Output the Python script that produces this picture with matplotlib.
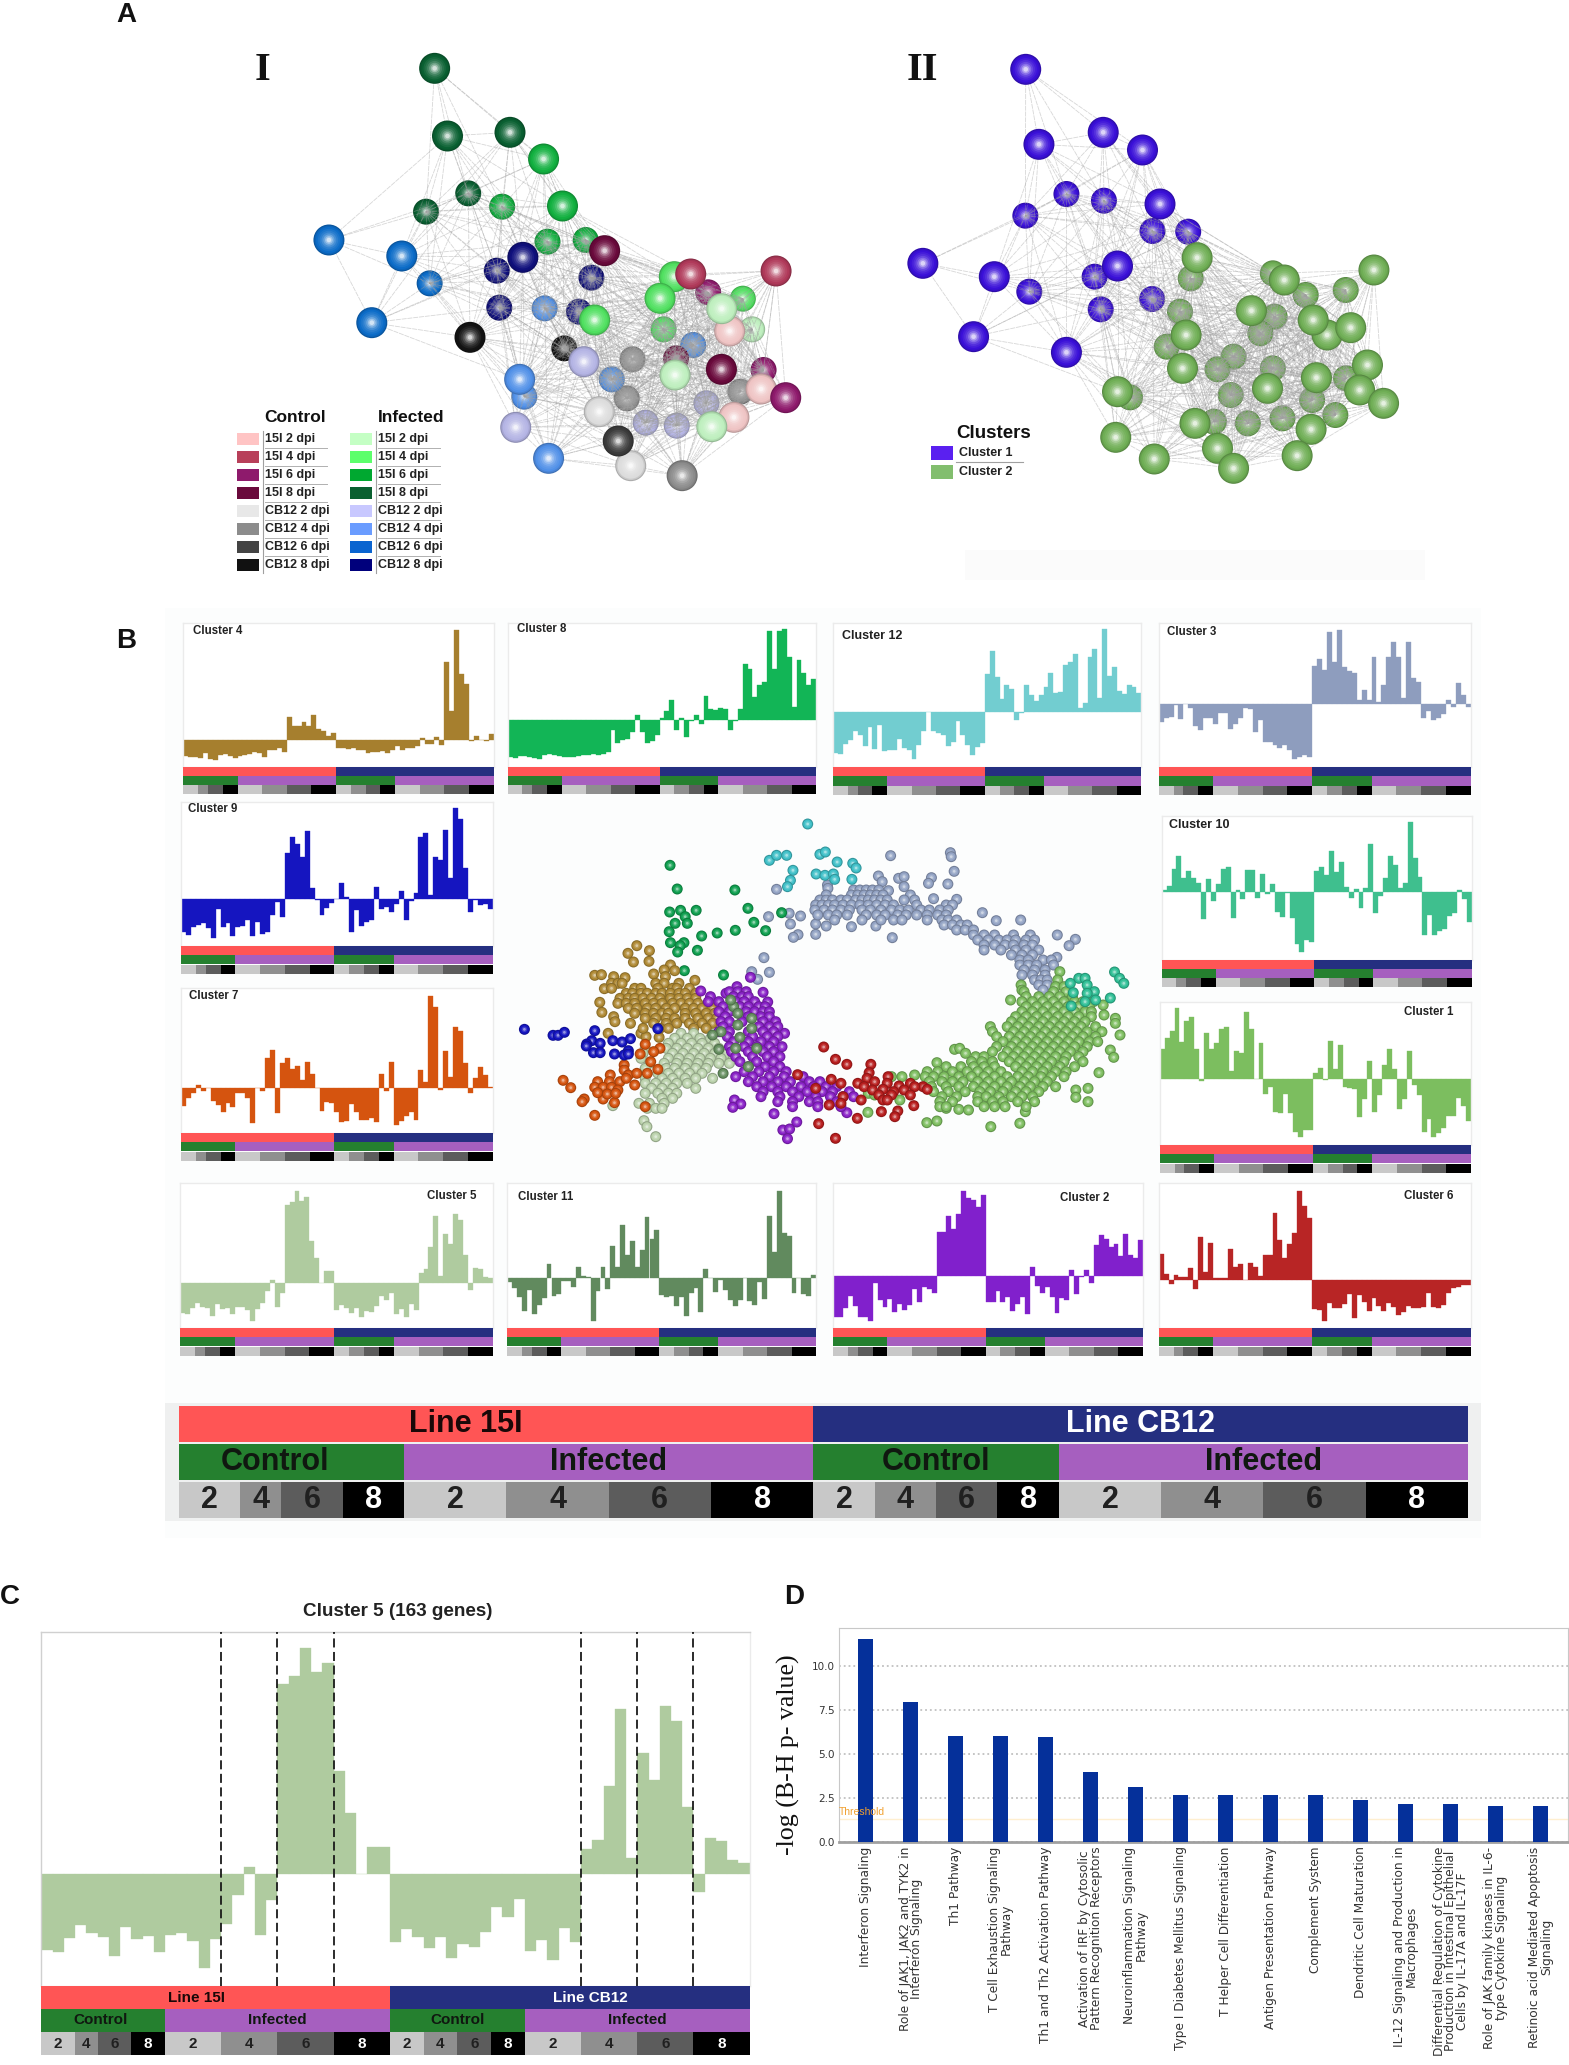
# -*- coding=utf-8 -*-
from itertools import combinations

import numpy as np
from matplotlib import pyplot as plt
from matplotlib.collections import LineCollection
from matplotlib.colors import to_rgb

plt.rcParams['font.family'] = ['Liberation Sans', 'DejaVu Sans']

W, H = 1569, 2065

# ---------- cluster profiles, one value per sample (63 samples) ----------
cluster_4 = [-48, -52, -52, -55, -40, -58, -60, -45, -42, -50, -55, -48, -46, -42, -38, -40, -52, -32, -30, -25, -38,
             67, 40, 40, 52, 40, 74, 32, 25, 12, 20,
             -25, -25, -28, -26, -32, -30, -40, -38, -36, -34, -40, -30,
             -20, -30, -26, -24, -20, 6, -14, -12, 7, -16,
             232, 87, 329, 197, 167, -5, 12, -2, -5, 18]
cluster_8 = [-110, -112, -108, -106, -110, -114, -116, -103, -102, -104, -108, -110, -110, -110, -106, -104, -103, -100,
             -104, -100, -95, -30, -67, -58, -55, -35, 15, -35, -68, -62, -45, 8, 28, 60, -30, 8, -50, -3, 15, -10, 72,
             35, 30, 37, 35, -30, -3, 35, 168, 155, 70, 105, 115, 268, 155, 268, 273, 190, 40, 180, 142, 105, 125]
cluster_12 = [-125, -127, -98, -85, -57, -70, -103, -47, -113, -40, -118, -115, -115, -83, -110, -115, -142, -100, -57,
              0, -57, -63, -70, -103, -90, -27, -70, -100, -130, -105, -95, 113, 182, 105, 37, 80, 68, -25, -5, 80, 50,
              33, 50, 75, 115, 57, 60, 140, 150, 172, 12, 25, 165, 188, 40, 247, 108, 133, 62, 52, 80, 73, 55]
cluster_3 = [-52, -40, -38, -3, -45, 0, -10, -65, -78, -40, -42, -60, -25, -27, -75, -60, -42, -10, -15, -82, -47, -112,
             -114, -122, -130, -122, -137, -165, -157, -152, -159, 115, 135, 103, 218, 128, 223, 111, 101, 93, 13, 43,
             13, 141, 8, 58, 141, 188, 141, 18, 188, 78, 68, -40, -20, -47, -40, -30, 13, -7, 63, 28, -7]
cluster_9 = [-99, -109, -86, -80, -72, -87, -117, -32, -86, -74, -112, -84, -82, -64, -112, -71, -107, -99, -49, -9, -56,
             136, 184, 164, 126, 204, 33, -4, -49, -27, -14, -2, 48, 6, -99, -34, -81, -71, -64, 34, -31, -26, -41, -16,
             24, -64, -7, 16, 184, 198, 11, 126, 116, 206, 61, 271, 238, 91, -41, -4, -19, -17, -31]
cluster_7 = [-53, -28, -15, 10, -7, 0, -38, -50, -72, -43, -57, -13, -13, -30, -105, 0, -7, 90, 115, -75, 77, 90, 57, 68,
             25, 80, 42, 0, -67, -40, -45, -72, -100, -97, -48, -70, -96, -96, -90, -100, 42, -8, 80, -110, -98, -82,
             -70, -96, 55, 18, 277, 243, -5, 113, 33, 185, 172, 76, -13, 30, 65, 40, 5]
cluster_10 = [5, 18, 68, 108, 42, 62, 40, 25, -83, 38, -27, 23, 67, 75, -80, 5, -23, 65, 65, -18, 52, -8, 23, -60, -75,
              -5, -80, -157, -180, -145, -152, 62, 75, 50, 123, 60, 90, 13, -18, 7, -48, 10, 142, -65, -13, 42, 107, 80,
              10, 27, 208, 102, 43, -130, -70, -130, -117, -113, -72, -65, 5, -22, -90]
cluster_1 = [89, 122, 142, 213, 110, 174, 184, 89, -7, 138, 89, 106, 149, 154, 23, 84, 76, 200, 148, -2, 106, -46, -25,
             -99, -102, -46, -102, -159, -174, -154, -154, 16, 31, -4, 114, 28, 101, -26, -28, -30, -116, -62, 54, -101,
             -49, 41, 89, 28, -91, -62, 84, -19, -49, -159, -122, -176, -162, -149, -111, -111, -57, -82, -126]
cluster_5 = [-227, -234, -190, -153, -177, -189, -244, -159, -194, -184, -234, -182, -177, -199, -282, -195, -150, -63,
             21, -182, -77, 571, 594, 680, 606, 635, 311, 183, 0, 83, 83, -204, -165, -187, -222, -187, -252, -209,
             -217, -172, -97, -127, -75, -230, -197, -257, -160, -204, 75, 103, 265, 495, 50, 363, 283, 506, 460, 203,
             -52, 108, 101, 43, 33]
cluster_11 = [-10, -30, -55, -98, -35, -107, -80, -60, 43, -53, -47, -8, -8, -27, 33, 7, 3, -127, -37, 34, -31, 97, 33,
              160, 70, 112, 33, 85, 185, 117, 145, -50, -55, -53, -83, -55, -113, -43, -30, -100, 27, 0, -40, -5, -35,
              -65, -83, -65, 0, -68, -80, -10, -63, 187, 80, 263, 137, 128, -43, 0, -48, -52, 10]
cluster_2 = [-121, -121, -96, -59, -89, -121, -121, -133, -21, -71, -91, -69, -106, -83, -101, -86, -39, -76, -31, -39,
             -49, 132, 134, 182, 142, 186, 257, 236, 229, 207, 243, -76, -76, -44, -76, -61, -103, -84, -61, -114, 27,
             -29, -51, -33, -61, -111, -66, -71, 19, -53, -3, 19, -21, 94, 123, 111, 89, 97, 61, 127, 64, 54, 109]
cluster_6 = [78, 19, -12, 16, 9, 11, 38, -26, 131, 26, 111, 8, 6, 6, 93, 41, 49, 1, 53, 39, 13, 76, 76, 201, 121, 68, 109,
             141, 269, 223, 186, -87, -89, -121, -69, -84, -84, -72, -41, -112, -44, -64, -91, -52, -77, -91, -67, -79,
             -104, -94, -77, -84, -82, -81, -39, -79, -84, -74, -39, -24, -19, -14, -14]
cluster_5_small_scale = 0.406

# sample counts of the annotation strips
line_sizes = [31, 32]
cond_sizes = [11, 20, 12, 20]
dpi_sizes = [3, 2, 3, 3, 5, 5, 5, 5, 3, 3, 3, 3, 5, 5, 5, 5]
dpi_labels = ['2', '4', '6', '8'] * 4
line_labels = ['Line 15I', 'Line CB12']
cond_labels = ['Control', 'Infected', 'Control', 'Infected']

# ---------- panel D ----------
pathways = ['Interferon Signaling', 'Role of JAK1, JAK2 and TYK2 in\nInterferon Signaling', 'Th1 Pathway',
            'T Cell Exhaustion Signaling\nPathway', 'Th1 and Th2 Activation Pathway',
            'Activation of IRF by Cytosolic\nPattern Recognition Receptors', 'Neuroinflammation Signaling\nPathway',
            'Type I Diabetes Mellitus Signaling', 'T Helper Cell Differentiation', 'Antigen Presentation Pathway',
            'Complement System', 'Dendritic Cell Maturation', 'IL-12 Signaling and Production in\nMacrophages',
            'Differential Regulation of Cytokine\nProduction in Intestinal Epithelial\nCells by IL-17A and IL-17F',
            'Role of JAK family kinases in IL-6-\ntype Cytokine Signaling',
            'Retinoic acid Mediated Apoptosis\nSignaling']
log_p = [11.57, 8.0, 6.06, 6.06, 6.0, 4.0, 3.12, 2.69, 2.69, 2.69, 2.69, 2.4, 2.2, 2.16, 2.06, 2.06]
threshold = 1.3

# ---------- panel A networks (read in zoom units) ----------
net_colors = {'dg': '#0A6032', 'g6': '#12B040', 'b6': '#0C6CC8', 'nv': '#10107C', 'mr': '#6A0A3C', 'lg': '#50E060',
              'cr': '#B03A5A', 'pk': '#8E1A6C', 'pg': '#BEEFBE', 'ro': '#EFC4C4', 'bk': '#141414', 'dk': '#3C3C3C',
              'gy': '#8C8C8C', 'pe': '#B4B4E4', 'b4': '#5090E8', 'wh': '#DCDCDC'}
net1_back = [(583, 460, 'dg'), (465, 515, 'dg'), (678, 500, 'g6'), (805, 605, 'g6'), (912, 600, 'g6'), (663, 692, 'nv'),
             (670, 803, 'nv'), (928, 713, 'nv'), (893, 815, 'nv'), (797, 805, 'b4'), (475, 730, 'b6'), (852, 925, 'bk'),
             (1043, 958, 'gy'), (1027, 1075, 'gy'), (1345, 1055, 'gy'), (985, 1018, 'b4'), (1213, 915, 'b4'),
             (1165, 955, 'mr'), (1255, 757, 'pk'), (1410, 990, 'pk'), (1130, 868, 'lg'), (1352, 776, 'lg'),
             (1378, 868, 'pg'), (1080, 1148, 'pe'), (1167, 1157, 'pe'), (1250, 1090, 'pe'), (740, 1070, 'b4')]
net1_front = [(489, 85, 'dg'), (525, 288, 'dg'), (700, 277, 'dg'), (794, 357, 'g6'), (847, 498, 'g6'), (193, 600, 'b6'),
              (397, 648, 'b6'), (313, 848, 'b6'), (736, 652, 'nv'), (965, 632, 'mr'), (1160, 710, 'lg'),
              (1206, 702, 'cr'), (1445, 693, 'cr'), (1120, 775, 'lg'), (937, 840, 'lg'), (588, 892, 'bk'),
              (1315, 873, 'ro'), (1293, 806, 'pg'), (1292, 988, 'mr'), (1162, 1005, 'pg'), (1403, 1047, 'ro'),
              (1472, 1073, 'pk'), (1327, 1132, 'ro'), (1265, 1160, 'pg'), (907, 965, 'pe'), (727, 1018, 'b4'),
              (716, 1162, 'pe'), (950, 1115, 'wh'), (1038, 1277, 'wh'), (1003, 1203, 'dk'), (808, 1255, 'b4'),
              (1182, 1307, 'gy')]
net2_back = [(522, 462, 'c1'), (627, 482, 'c1'), (407, 527, 'c1'), (763, 573, 'c1'), (863, 575, 'c1'), (418, 755, 'c1'),
             (601, 710, 'c1'), (618, 808, 'c1'), (762, 777, 'c1'), (870, 715, 'c2'), (1100, 700, 'c2'),
             (1192, 765, 'c2'), (1304, 750, 'c2'), (840, 815, 'c2'), (1105, 830, 'c2'), (1065, 880, 'c2'),
             (803, 920, 'c2'), (990, 950, 'c2'), (945, 988, 'c2'), (1100, 985, 'c2'), (1305, 1015, 'c2'),
             (982, 1065, 'c2'), (1210, 1080, 'c2'), (700, 1072, 'c2'), (935, 1145, 'c2'), (1030, 1150, 'c2'),
             (1127, 1135, 'c2'), (1275, 1125, 'c2')]
net2_front = [(408, 88, 'c1'), (445, 313, 'c1'), (625, 277, 'c1'), (735, 330, 'c1'), (784, 492, 'c1'), (120, 670, 'c1'),
              (320, 710, 'c1'), (665, 678, 'c1'), (262, 890, 'c1'), (522, 937, 'c1'), (888, 653, 'c2'),
              (1132, 720, 'c2'), (1383, 690, 'c2'), (1040, 812, 'c2'), (857, 885, 'c2'), (1252, 885, 'c2'),
              (1213, 840, 'c2'), (1318, 863, 'c2'), (847, 985, 'c2'), (1085, 1045, 'c2'), (1222, 1013, 'c2'),
              (1365, 975, 'c2'), (1343, 1050, 'c2'), (1410, 1090, 'c2'), (665, 1055, 'c2'), (882, 1150, 'c2'),
              (1207, 1168, 'c2'), (660, 1192, 'c2'), (768, 1257, 'c2'), (945, 1225, 'c2'), (990, 1285, 'c2'),
              (1168, 1247, 'c2')]
net2_colors = {'c1': '#3A10D8', 'c2': '#6FAE55'}

legend_control = ['15I 2 dpi', '15I 4 dpi', '15I 6 dpi', '15I 8 dpi', 'CB12 2 dpi', 'CB12 4 dpi', 'CB12 6 dpi', 'CB12 8 dpi']
control_colors = ['#FFC4C4', '#B8405A', '#8E1A6C', '#6A0A3C', '#E8E8E8', '#8C8C8C', '#444444', '#111111']
infected_colors = ['#C4FFC4', '#5CFF6C', '#00A830', '#0A6030', '#C8C8FF', '#6A9CFF', '#0A64D0', '#00007C']

# ---------- panel B gene cloud (read in zoom units), rows are (y, xs) ----------
pts_cyan = [(731, 72), (640, 181), (657, 166), (681, 166), (760, 163), (773, 156), (801, 186), (838, 190), (846, 204),
            (696, 211), (751, 222), (772, 226), (792, 222), (795, 238), (836, 238), (690, 241), (683, 260)]
pts_green8 = [(404, 196), (421, 267), (558, 270), (403, 336), (429, 331), (466, 331), (589, 325), (669, 338), (440, 350),
              (416, 370), (445, 370), (603, 367), (402, 395), (559, 391), (516, 399), (631, 392), (479, 408), (405, 428),
              (437, 428), (428, 437), (422, 456), (469, 451), (531, 525), (438, 512)]
pts_grey = [(928, 167), (1070, 158), (1072, 170), (1079, 214), (899, 228), (947, 235), (960, 230), (1025, 233),
            (1018, 250), (1064, 252), (778, 255), (779, 265), (657, 268), (908, 245), (960, 260), (923, 272), (1030, 296),
            (1085, 298), (687, 340), (714, 348), (638, 350), (690, 372), (750, 372), (775, 378), (835, 380), (893, 378),
            (708, 404), (697, 412), (750, 403), (932, 413), (1146, 338), (1179, 362), (1237, 360), (1324, 405),
            (1367, 418), (1352, 437), (1323, 472), (627, 473), (640, 517), (598, 515), (612, 538)]
rows_grey = [(270, [840, 855, 870, 885, 900]), (285, [775, 835, 850, 865, 880, 895, 910, 975]),
             (300, [760, 775, 790, 810, 825, 845, 860, 875, 890, 905, 920, 960, 985]),
             (315, [750, 765, 780, 795, 815, 835, 855, 875, 895, 915, 935, 990, 1060, 1075]),
             (330, [748, 770, 790, 810, 830, 860, 880, 905, 930, 950, 970, 1000, 1020, 1045, 1065]),
             (345, [755, 780, 800, 825, 870, 895, 915, 945, 965, 990, 1015, 1040, 1060]),
             (360, [795, 860, 905, 935, 955, 1015, 1050, 1065, 1085]), (375, [1055, 1075, 1095, 1110]),
             (390, [1085, 1105, 1125]), (405, [1125, 1150, 1175, 1220, 1260]),
             (420, [1135, 1160, 1185, 1205, 1225, 1250, 1270]), (435, [1150, 1175, 1200, 1220, 1245, 1265]),
             (450, [1150, 1190, 1225, 1250, 1280]), (465, [1215, 1240, 1265]), (480, [1235, 1255, 1290, 1310]),
             (495, [1235, 1255, 1275, 1315]), (510, [1245, 1270, 1295]), (525, [1240, 1265, 1295]),
             (540, [1270, 1285, 1300]), (555, [1280, 1300]), (570, [1290])]
pts_bronze = [(325, 437), (304, 460), (355, 452), (317, 486), (354, 484), (225, 526), (241, 524), (270, 530), (405, 495),
              (390, 510), (415, 512), (365, 522), (393, 530), (463, 541), (297, 533), (248, 566), (237, 607), (242, 637),
              (270, 650), (273, 665), (257, 700), (335, 700), (347, 710), (378, 712), (420, 725)]
rows_bronze = [(550, [265, 280, 290, 370, 390, 425]), (565, [265, 320, 335, 375, 410, 420, 450]),
               (580, [300, 315, 335, 350, 370, 385, 405, 425, 440, 465]),
               (595, [285, 305, 320, 340, 360, 380, 405, 425, 445, 465]),
               (610, [280, 300, 320, 345, 365, 385, 410, 430, 450, 470, 495]),
               (625, [305, 325, 350, 370, 395, 415, 440, 460, 480, 505]),
               (640, [320, 345, 365, 385, 400, 440, 465, 490, 510]),
               (655, [345, 370, 395, 415, 440, 470, 495, 515]), (670, [310, 365, 395, 420, 450, 480, 505]),
               (685, [340, 380, 400, 460, 490])]
pts_purple = [(595, 532), (625, 577), (477, 573), (636, 606), (676, 700), (557, 900), (572, 912), (553, 922), (651, 941),
              (705, 966), (672, 990), (688, 987), (683, 1016), (824, 938), (537, 580), (563, 560)]
rows_purple = [(575, [545, 565, 585]), (590, [500, 555, 575, 590]), (605, [495, 520, 560, 580, 605]),
               (620, [530, 570, 590, 615, 630]), (635, [520, 545, 585, 605, 625, 640]), (650, [535, 590, 620, 640]),
               (665, [525, 545, 575, 625, 655]), (680, [530, 615, 640, 660]), (695, [520, 545, 590, 625, 650]),
               (710, [540, 600, 635, 660]), (725, [555, 590, 620, 650]), (740, [545, 580, 610, 640, 670]),
               (755, [550, 590, 625, 650]), (770, [560, 600, 635, 665]), (785, [570, 610, 650]), (800, [590, 630, 665]),
               (815, [580, 615, 650, 680]), (830, [560, 600, 640, 675, 720]), (845, [590, 625, 660, 690, 735, 760]),
               (860, [610, 645, 680, 715, 745, 775, 800]), (875, [625, 660, 695, 730, 765, 790, 830]),
               (890, [620, 665, 710, 750, 785, 815, 840]), (905, [660, 695, 735, 755, 800]), (920, [695, 755, 810])]
pts_sage = [(342, 962), (349, 980), (370, 1010), (268, 917)]
rows_sage = [(700, [430, 460]), (715, [415, 445, 475, 500]), (730, [400, 430, 455, 480, 510]),
             (745, [345, 395, 420, 445, 470, 495, 520]), (760, [340, 410, 435, 460, 485, 510, 540]),
             (775, [335, 400, 425, 450, 475, 500, 525, 555]), (790, [355, 390, 420, 445, 470, 495, 520, 545]),
             (805, [345, 395, 415, 440, 465, 490]), (820, [375, 400, 425, 450, 480]),
             (835, [345, 385, 410, 440, 465, 505]), (850, [345, 370, 395, 420, 445]), (865, [360, 385, 410, 465]),
             (880, [345, 375, 400, 420]), (895, [385, 410]), (910, [330, 355, 390]), (925, [350, 370, 385])]
pts_dsage = [(555, 620), (565, 640), (598, 655), (565, 675), (598, 685), (570, 712), (610, 745), (520, 748), (560, 745),
             (590, 800), (525, 695), (505, 705), (548, 600), (530, 820)]
pts_blue = [(58, 688), (126, 706), (138, 706), (153, 697), (225, 692), (218, 722), (238, 730), (206, 732), (268, 722),
            (290, 726), (310, 716), (222, 758), (238, 758), (305, 752), (272, 762), (295, 765), (305, 762), (205, 738),
            (375, 686)]
pts_orange = [(150, 841), (168, 863), (200, 897), (195, 905), (245, 897), (225, 946), (272, 908), (345, 733), (380, 745),
              (365, 755), (333, 762), (358, 785), (375, 808), (295, 795), (295, 810), (262, 825), (232, 845), (260, 845),
              (285, 845), (305, 825), (325, 820), (350, 820), (300, 835), (320, 855), (225, 862), (245, 862), (265, 862),
              (280, 870), (232, 878), (255, 882), (275, 880), (345, 920)]
pts_red = [(769, 741), (797, 778), (824, 793), (881, 793), (707, 824), (787, 838), (877, 818), (922, 830), (810, 850),
           (850, 850), (872, 835), (890, 845), (920, 850), (948, 858), (975, 850), (1005, 860), (865, 860), (885, 870),
           (910, 868), (935, 875), (960, 870), (985, 860), (1015, 868), (900, 885), (930, 885), (975, 885), (750, 865),
           (815, 890), (858, 900), (910, 900), (920, 900), (782, 915), (810, 910), (983, 917), (906, 935), (945, 933),
           (849, 955), (938, 950), (757, 971), (797, 1015)]
pts_lime = [(1330, 515), (1213, 600), (1238, 555), (1240, 570), (1433, 615), (1435, 645), (1462, 655), (1462, 670),
            (1473, 705), (1450, 750), (1458, 772), (1423, 818), (1397, 865), (1368, 870), (1368, 892), (1397, 905),
            (1235, 970), (1166, 980), (1014, 968), (1038, 963), (1248, 935), (874, 937), (1090, 928), (1113, 930),
            (1060, 925), (1038, 788), (1080, 748), (1092, 745), (1106, 760), (930, 830), (955, 830), (985, 825),
            (875, 880), (890, 885), (950, 900)]
rows_lime = [(540, [1325]), (560, [1320, 1340]), (575, [1245, 1315, 1345]), (590, [1250, 1280, 1305, 1330, 1360]),
             (605, [1240, 1265, 1290, 1315, 1340, 1365, 1385, 1410]), (620, [1250, 1275, 1300, 1325, 1350, 1375, 1400]),
             (635, [1240, 1265, 1290, 1315, 1340, 1365, 1390, 1405]),
             (650, [1225, 1250, 1275, 1300, 1325, 1350, 1375, 1405]),
             (665, [1215, 1240, 1265, 1290, 1315, 1340, 1365, 1390]),
             (680, [1165, 1205, 1230, 1255, 1280, 1305, 1330, 1355, 1380, 1415]),
             (695, [1170, 1220, 1245, 1270, 1295, 1320, 1345, 1370, 1395, 1430]),
             (710, [1180, 1210, 1235, 1260, 1285, 1310, 1335, 1360, 1385, 1415]),
             (725, [1195, 1225, 1250, 1275, 1300, 1325, 1350, 1375, 1400, 1420]),
             (740, [1180, 1215, 1240, 1265, 1290, 1315, 1340, 1365, 1395]),
             (755, [1170, 1205, 1230, 1255, 1280, 1305, 1330, 1355, 1385]),
             (770, [1130, 1150, 1195, 1220, 1245, 1270, 1295, 1320, 1345, 1375]),
             (785, [1120, 1145, 1170, 1210, 1235, 1260, 1285, 1310, 1340, 1385]),
             (800, [1060, 1095, 1125, 1150, 1175, 1225, 1250, 1275, 1300, 1330, 1365]),
             (815, [1015, 1040, 1075, 1110, 1135, 1160, 1190, 1240, 1265, 1290, 1320, 1345]),
             (830, [1010, 1030, 1055, 1090, 1120, 1150, 1175, 1205, 1230, 1255, 1285, 1310, 1340]),
             (845, [1020, 1050, 1075, 1100, 1135, 1160, 1190, 1215, 1245, 1270, 1300]),
             (860, [1025, 1060, 1090, 1125, 1150, 1175, 1205, 1235, 1260, 1290, 1320]),
             (875, [1030, 1065, 1105, 1140, 1165, 1195, 1225, 1250, 1280]),
             (890, [1050, 1085, 1135, 1155, 1185, 1215, 1240, 1265]), (905, [1045, 1075, 1135, 1170, 1195, 1230, 1270]),
             (920, [1045, 1060, 1150, 1175, 1200, 1250])]
pts_teal = [(1460, 516), (1472, 535), (1482, 550), (1375, 535), (1390, 535), (1395, 555), (1412, 575), (1395, 580),
            (1450, 594), (1415, 600), (1355, 550), (1362, 578), (1390, 605), (1357, 618)]

fig = plt.figure(figsize=(W / 100, H / 100), dpi=100, facecolor='white')


def px_axes(x0, y0, x1, y1, **kw):
    # 按像素位置放一个坐标轴
    return fig.add_axes([x0 / W, 1 - y1 / H, (x1 - x0) / W, (y1 - y0) / H], **kw)


def spheres(ax, xs, ys, colors, diam, zorder=3, fracs=None, mixes=None):
    if fracs is None:
        fracs = [1.0, 0.93, 0.84, 0.72, 0.6, 0.48, 0.36, 0.25, 0.15]
        mixes = [-0.22, -0.08, 0.0, 0.06, 0.13, 0.24, 0.4, 0.6, 0.82]
    px, py, cs, ss = [], [], [], []
    for x, y, c in zip(xs, ys, colors):
        base = np.array(to_rgb(c))
        for f, m in zip(fracs, mixes):
            col = base * (1 + m) if m < 0 else base + (1 - base) * m
            px.append(x)
            py.append(y)
            cs.append(col)
            ss.append((diam * f * 0.72) ** 2)
    ax.scatter(px, py, s=ss, c=np.array(cs), linewidths=0, zorder=zorder)


def strips(ax, text=None, fs=0):
    ax.set_xlim(0, 63)
    ax.set_ylim(3, 0)
    ax.axis('off')
    rows = [(line_sizes, ['#FF5555', '#252F80']),
            (cond_sizes, ['#25802F', '#A65FBF'] * 2),
            (dpi_sizes, ['#C8C8C8', '#8F8F8F', '#5C5C5C', '#000000'] * 4)]
    for r, (sizes, cols) in enumerate(rows):
        left = np.r_[0, np.cumsum(sizes)[:-1]]
        ax.bar(left, [0.97] * len(sizes), width=sizes, bottom=r + 0.015, align='edge', color=cols, linewidth=0)
    if text is None:
        return
    left = np.r_[0, np.cumsum(cond_sizes)[:-1]]
    for lab, l, s, dx in zip(cond_labels, left, cond_sizes, text['cond_dx']):
        ax.text(l + s / 2 + dx, 1.5, lab, ha='center', va='center', fontsize=fs, fontweight='bold', color='#101810')
    ax.text(text['line_x'][0], 0.5, line_labels[0], ha='center', va='center', fontsize=fs, fontweight='bold',
            color='#1a0808')
    ax.text(text['line_x'][1], 0.5, line_labels[1], ha='center', va='center', fontsize=fs, fontweight='bold',
            color='white')
    left = np.r_[0, np.cumsum(dpi_sizes)[:-1]]
    for lab, l, s in zip(dpi_labels, left, dpi_sizes):
        ax.text(l + s / 2, 2.5, lab, ha='center', va='center', fontsize=fs, fontweight='bold',
                color='white' if lab == '8' else '#202020')


def profile(values, color, x0, x1, top, base, strip_top, strip_bottom, title=None, tx=0, ty=0, fs=8.3):
    ax = px_axes(x0, top, x1, strip_top)
    ax.bar(np.arange(len(values)), values, width=1.0, align='edge', color=color, edgecolor=color, linewidth=0.25)
    ax.set_xlim(0, 63)
    ax.set_ylim(-(strip_top - base) * 3, (base - top) * 3)
    ax.set_xticks([])
    ax.set_yticks([])
    for sp in ax.spines.values():
        sp.set_color('#EBEBEB')
        sp.set_linewidth(1.0)
    strips(px_axes(x0, strip_top, x1, strip_bottom))
    if title:
        page.text(tx, ty, title, fontsize=fs, fontweight='bold', ha='left', va='center', color='#222222')
    return ax


# 背景放最底层
bg = px_axes(0, 0, W, H, zorder=-1)
bg.set_xlim(0, W)
bg.set_ylim(H, 0)
bg.axis('off')
bg.fill_between([165, 1481], 608, 1538, color='#FCFDFD', linewidth=0)
bg.fill_between([165, 1481], 1403, 1521, color='#EFF0F0', linewidth=0)
bg.fill_between([965, 1425], 550, 580, color='#FBFBFB', linewidth=0)

# 文字放最上层
page = px_axes(0, 0, W, H, zorder=20)
page.set_xlim(0, W)
page.set_ylim(H, 0)
page.axis('off')
for lab, x, y in [('A', 126, 15), ('B', 126, 641), ('C', 10, 1597), ('D', 794, 1597)]:
    page.text(x, y, lab, fontsize=20, fontweight='bold', ha='center', va='center', color='#111111')
for lab, x in [('I', 262), ('II', 922)]:
    page.text(x, 70, lab, fontsize=29, fontweight='bold', family='Liberation Serif', ha='center', va='center',
              color='#111111')


# ---------- A 网络图 ----------
def network(x0, back, front, colors, limit):
    ax = px_axes(x0, 40, x0 + 560, 510)
    ax.patch.set_alpha(0)
    ax.set_xlim(0, 1568)
    ax.set_ylim(1410, 0)
    ax.axis('off')
    nodes = back + front
    segs = []
    for a, b in combinations(nodes, 2):
        if np.hypot((a[0] - b[0]) / 2.8, (a[1] - b[1]) / 3) < limit:
            segs.append([(a[0], a[1]), (b[0], b[1])])
    spheres(ax, [n[0] for n in back], [n[1] for n in back], [colors[n[2]] for n in back], 26, zorder=2)
    ax.add_collection(LineCollection(segs, colors='#A0A0A0', linewidths=0.6, alpha=0.42, linestyles=(0, (6, 1)),
                                     zorder=3))
    spheres(ax, [n[0] for n in front], [n[1] for n in front], [colors[n[2]] for n in front], 31, zorder=4)


network(260, net1_back, net1_front, net_colors, 165)
network(880, net2_back, net2_front, net2_colors, 165)

# 图例
page.text(295, 417, 'Control', fontsize=12.5, fontweight='bold', ha='center', va='center', color='#111111')
page.text(411, 417, 'Infected', fontsize=12.5, fontweight='bold', ha='center', va='center', color='#111111')
for sx, tx, cols in [(237, 265, control_colors), (350, 378, infected_colors)]:
    page.plot([tx - 2, tx - 2], [431, 573], color='#A0A0A0', lw=0.8)
    for i, (lab, c) in enumerate(zip(legend_control, cols)):
        y = 439 + i * 18
        page.fill_between([sx, sx + 22], y - 6, y + 6, color=c, linewidth=0)
        page.text(tx, y, lab, fontsize=9, fontweight='bold', ha='left', va='center', color='#222222')
        if i < 7:
            page.plot([tx, tx + 62], [y + 9, y + 9], color='#B0B0B0', lw=0.7)
page.text(994, 433, 'Clusters', fontsize=13.5, fontweight='bold', ha='center', va='center', color='#111111')
for y, lab, c in [(453, 'Cluster 1', '#5A20F0'), (472, 'Cluster 2', '#82BE6E')]:
    page.fill_between([931, 953], y - 7, y + 7, color=c, linewidth=0)
    page.text(959, y, lab, fontsize=9, fontweight='bold', ha='left', va='center', color='#222222')
page.plot([956, 1023], [462, 462], color='#A0A0A0', lw=0.8)

# ---------- B 基因散点 ----------
cloud = px_axes(500, 800, 1160, 1180)
cloud.patch.set_alpha(0)
cloud.set_xlim(0, 1568)
cloud.set_ylim(1140, 0)
cloud.axis('off')


def unroll(points, rows=()):
    out = list(points)
    for y, xs in rows:
        out += [(x, y) for x in xs]
    return out


cloud_sets = [(unroll(pts_grey, rows_grey), '#93A3C4'), (pts_cyan, '#40C0C8'), (pts_green8, '#10A050'),
              (unroll(pts_lime, rows_lime), '#7EBE60'), (pts_teal, '#30BF96'), (unroll(pts_bronze, rows_bronze), '#B08A35'),
              (unroll(pts_sage, rows_sage), '#BBD2AC'), (pts_orange, '#D5540F'), (pts_blue, '#1515C0'),
              (unroll(pts_purple, rows_purple), '#8A22C8'), (pts_dsage, '#668F60'), (pts_red, '#B81E1E')]
for pts, c in cloud_sets:
    spheres(cloud, [p[0] for p in pts], [p[1] for p in pts], [c] * len(pts), 11,
            fracs=[1.0, 0.8, 0.5, 0.25], mixes=[-0.22, 0.0, 0.18, 0.55])

# ---------- B 小柱状图 ----------
profile(cluster_4, '#A67F2E', 183.4, 493.5, 623.3, 739.7, 766.7, 794, 'Cluster 4', 193, 631)
profile(cluster_8, '#12B556', 507.8, 816.1, 623.3, 720.3, 766.7, 794, 'Cluster 8', 517, 629)
profile(cluster_12, '#72CDD0', 833.4, 1141.3, 623.3, 711.7, 767, 795, 'Cluster 12', 841.7, 636, 9)
profile(cluster_3, '#8E9DBE', 1158.7, 1470.5, 623.3, 704.3, 767, 795, 'Cluster 3', 1167, 632)
profile(cluster_9, '#1515C0', 181, 492.7, 801.7, 898.7, 946, 973.7, 'Cluster 9', 188, 809)
profile(cluster_7, '#D5540F', 181, 492.7, 988.3, 1088.3, 1132.7, 1161, 'Cluster 7', 189, 996)
profile(cluster_10, '#3FBF8E', 1161.7, 1471.7, 815.7, 891.7, 960, 987.3, 'Cluster 10', 1169, 825, 9)
profile(cluster_1, '#7CBE5F', 1159.7, 1471, 1001.7, 1078.7, 1145, 1172.7, 'Cluster 1', 1404, 1011.7)
profile([v * cluster_5_small_scale for v in cluster_5], '#AFCB9F', 180.4, 493, 1183.3, 1282.7, 1328, 1355.7,
        'Cluster 5', 427, 1196)
profile(cluster_11, '#618A5E', 507.4, 816.1, 1183.3, 1278.3, 1328, 1355.7, 'Cluster 11', 518, 1196.7)
profile(cluster_2, '#8120CC', 833.4, 1143, 1183.3, 1276.3, 1328, 1355.7, 'Cluster 2', 1060, 1198)
profile(cluster_6, '#B82525', 1158.7, 1470.5, 1183.3, 1280.3, 1328, 1355.7, 'Cluster 6', 1404, 1196)

# 大图例
strips(px_axes(179, 1405, 1468, 1519), {'cond_dx': [-0.8, 0, 0, 0], 'line_x': [14.0, 47.0]}, 22)

# ---------- C ----------
ax_c = profile(cluster_5, '#AFCB9F', 41.3, 749.7, 1631.7, 1874.3, 1986, 2008)
ax_c.vlines([16, 21, 26, 48, 53, 58], *ax_c.get_ylim(), color='#1a1a1a', lw=1.3, linestyles=(0, (5, 2.5)), zorder=5)
ax_c.spines['top'].set_color('#D0D0D0')
ax_c.spines['left'].set_color('#D0D0D0')
page.text(398, 1612, 'Cluster 5 (163 genes)', fontsize=13.6, fontweight='bold', ha='center', va='center', color='#222222')
strips(px_axes(41.3, 1986, 749.7, 2055), {'cond_dx': [-0.2, 0, 0, 0], 'line_x': [13.8, 48.8]}, 11)

# ---------- D ----------
ax_d = px_axes(838.8, 1627.7, 1567.5, 1842.3)
ax_d.bar(np.arange(len(log_p)), log_p, width=0.34, color='#05309A', zorder=3)
ax_d.set_xlim(-0.6, 15.6)
ax_d.set_ylim(0, 12.2)
ax_d.set_yticks([0, 2.5, 5, 7.5, 10])
ax_d.set_yticklabels(['0.0', '2.5', '5.0', '7.5', '10.0'], fontsize=7.5, color='#333333', family='DejaVu Sans')
ax_d.grid(axis='y', color='#C0C0C0', linestyle=':', linewidth=1.3, zorder=1)
ax_d.set_xticks(np.arange(len(pathways)))
ax_d.set_xticklabels(pathways, rotation=90, fontsize=8.7, ha='center', va='top', multialignment='center',
                     linespacing=0.85, color='#333333', family='DejaVu Sans')
ax_d.tick_params(length=0, pad=3)
ax_d.axhline(threshold, color='#FFEFD0', lw=1, zorder=2)
ax_d.text(-0.6, 1.75, 'Threshold', color='#F0A030', fontsize=7.5, ha='left', va='center', zorder=4)
for s in ['top', 'left', 'right']:
    ax_d.spines[s].set_color('#C8C8C8')
ax_d.spines['bottom'].set_color('#A0A0A0')
ax_d.spines['bottom'].set_linewidth(2)
page.text(788, 1755, '-log (B-H p- value)', rotation=90, fontsize=18.6, family='Liberation Serif', ha='center',
          va='center', color='#111111')

plt.savefig('out.png', dpi=100)
